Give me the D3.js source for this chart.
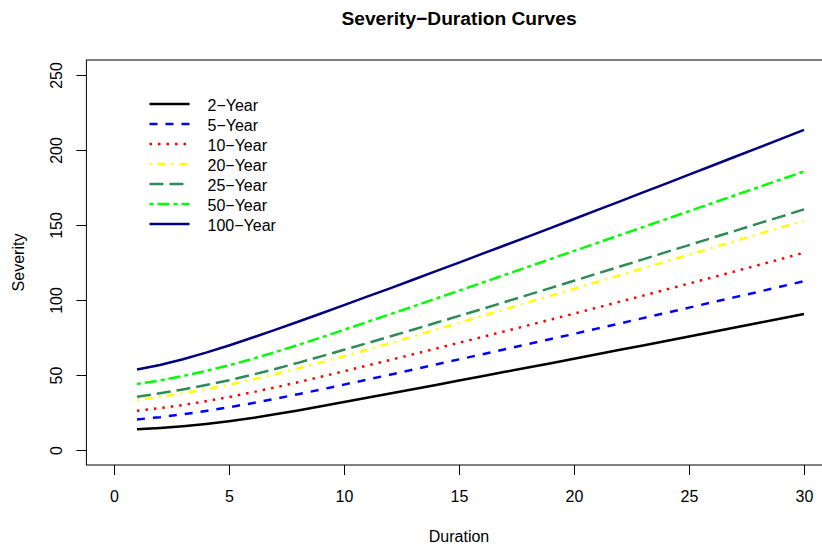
<!DOCTYPE html>
<html>
<head>
<meta charset="utf-8">
<script src="https://cdn.jsdelivr.net/npm/d3@7"></script>
<style>
  html, body { margin: 0; padding: 0; background: #fff; }
  svg { display: block; font-family: "Liberation Sans", Arial, sans-serif; }
</style>
</head>
<body>
<svg id="chart" width="822" height="545"></svg>
<script>
// Duration (x) values shared by every curve
const duration = [1, 2, 3, 4, 5, 6, 7, 8, 9, 10, 11, 12, 13, 14, 15,
                  16, 17, 18, 19, 20, 21, 22, 23, 24, 25, 26, 27, 28, 29, 30];

// Severity for each return period
const sev2 = [13.8, 14.7, 15.9, 17.4, 19.2, 21.3, 23.8, 26.4, 29.2, 32.0,
              34.8, 37.7, 40.5, 43.4, 46.3, 49.2, 52.1, 55.0, 57.9, 60.8,
              63.8, 66.8, 69.7, 72.7, 75.7, 78.7, 81.7, 84.7, 87.7, 90.7];
const sev5 = [20.4, 21.9, 23.8, 26.0, 28.5, 31.2, 34.1, 37.2, 40.3, 43.6,
              46.9, 50.2, 53.6, 57.0, 60.4, 63.8, 67.2, 70.6, 74.0, 77.4,
              80.9, 84.4, 87.9, 91.4, 94.9, 98.4, 101.9, 105.4, 109.0, 112.5];
const sev10 = [26.2, 27.9, 30.0, 32.5, 35.3, 38.4, 41.7, 45.2, 48.8, 52.5,
               56.3, 60.0, 63.8, 67.6, 71.5, 75.3, 79.2, 83.1, 87.0, 90.9,
               94.9, 98.9, 102.9, 106.9, 111.0, 115.0, 119.1, 123.2, 127.3, 131.5];
const sev20 = [33.3, 35.4, 37.8, 40.5, 43.5, 46.9, 50.5, 54.4, 58.4, 62.5,
               66.7, 71.2, 75.7, 80.2, 84.7, 89.3, 93.8, 98.4, 102.9, 107.5,
               112.0, 116.6, 121.1, 125.7, 130.2, 134.8, 139.3, 143.9, 148.4, 153.0];
const sev25 = [35.5, 37.8, 40.4, 43.3, 46.5, 50.1, 54.0, 58.1, 62.4, 66.8,
               71.2, 75.7, 80.2, 84.8, 89.4, 94.0, 98.7, 103.4, 108.1, 112.8,
               117.6, 122.3, 127.1, 131.9, 136.6, 141.4, 146.1, 150.9, 155.6, 160.4];
const sev50 = [44.0, 46.4, 49.3, 52.7, 56.5, 60.7, 65.2, 70.0, 75.0, 80.1,
               85.3, 90.5, 95.7, 101.0, 106.2, 111.5, 116.8, 122.1, 127.4, 132.7,
               138.0, 143.3, 148.6, 153.9, 159.2, 164.5, 169.8, 175.1, 180.4, 185.7];
const sev100 = [53.7, 56.7, 60.5, 64.9, 69.7, 74.8, 80.1, 85.5, 91.0, 96.6,
                102.2, 107.8, 113.5, 119.2, 124.9, 130.7, 136.5, 142.3, 148.1, 154.0,
                159.9, 165.8, 171.7, 177.6, 183.6, 189.5, 195.5, 201.4, 207.4, 213.4];

const seriesNames = ["2\u2212Year", "5\u2212Year", "10\u2212Year", "20\u2212Year",
                     "25\u2212Year", "50\u2212Year", "100\u2212Year"];
const seriesValues = [sev2, sev5, sev10, sev20, sev25, sev50, sev100];

// Tick labels
const xTicks = [0, 5, 10, 15, 20, 25, 30];
const yTicks = [0, 50, 100, 150, 200, 250];

// Line appearance per series (colour and dash pattern)
const seriesColors = ["#000000", "#0000ff", "#ff0000", "#ffff00", "#2e8b57", "#00ff00", "#000080"];
const seriesDashes = [null, "8,8", "2.5,6", "2,6,8,6", "14,6", "4,4,12,4", null];

const svg = d3.select("#chart");

// Plot region
const plotLeft = 86.4, plotRight = 831.6, plotTop = 60, plotBottom = 465;
const x = d3.scaleLinear().domain([-1.2, 31.2]).range([plotLeft, plotRight]);
const y = d3.scaleLinear().domain([-10, 260]).range([plotBottom, plotTop]);

// Curves
const line = d3.line()
  .x((d, i) => x(duration[i]))
  .y(d => y(d));

svg.append("g")
  .selectAll("path")
  .data(seriesValues)
  .join("path")
  .attr("d", d => line(d))
  .attr("fill", "none")
  .attr("stroke", (d, i) => seriesColors[i])
  .attr("stroke-width", 2.5)
  .attr("stroke-dasharray", (d, i) => seriesDashes[i])
  .attr("stroke-linejoin", "round");

// Frame around the plot
svg.append("rect")
  .attr("x", plotLeft).attr("y", plotTop)
  .attr("width", plotRight - plotLeft).attr("height", plotBottom - plotTop)
  .attr("fill", "none").attr("stroke", "#000").attr("stroke-width", 1);

// X axis
const gx = svg.append("g")
  .attr("transform", `translate(0,${plotBottom})`)
  .call(d3.axisBottom(x).tickValues(xTicks).tickSize(10).tickSizeOuter(0).tickFormat(d3.format("d")));
gx.select(".domain").remove();
gx.selectAll(".tick line").attr("stroke", "#000");
gx.selectAll(".tick text")
  .attr("y", 37).attr("dy", null)
  .attr("fill", "#000")
  .style("font-size", "16px")
  .style("font-family", "Liberation Sans, Arial, sans-serif");

// Y axis
const gy = svg.append("g")
  .attr("transform", `translate(${plotLeft},0)`)
  .call(d3.axisLeft(y).tickValues(yTicks).tickSize(10).tickSizeOuter(0).tickFormat(d3.format("d")));
gy.select(".domain").remove();
gy.selectAll(".tick line").attr("stroke", "#000");
gy.selectAll(".tick text")
  .attr("x", null).attr("dy", null)
  .attr("transform", "translate(-24,0) rotate(-90)")
  .attr("text-anchor", "middle")
  .attr("fill", "#000")
  .style("font-size", "16px")
  .style("font-family", "Liberation Sans, Arial, sans-serif");

// Titles
svg.append("text")
  .attr("x", (plotLeft + plotRight) / 2).attr("y", 25)
  .attr("text-anchor", "middle")
  .style("font-size", "19.2px").style("font-weight", "bold")
  .text("Severity\u2212Duration Curves");

svg.append("text")
  .attr("x", (plotLeft + plotRight) / 2).attr("y", 542)
  .attr("text-anchor", "middle")
  .style("font-size", "16px")
  .text("Duration");

svg.append("text")
  .attr("transform", `translate(24,${(plotTop + plotBottom) / 2}) rotate(-90)`)
  .attr("text-anchor", "middle")
  .style("font-size", "16px")
  .text("Severity");

// Legend
const legend = svg.append("g");
const rowY = i => 104 + i * 20;
legend.selectAll("line")
  .data(seriesNames)
  .join("line")
  .attr("x1", 149.5).attr("x2", 189.5)
  .attr("y1", (d, i) => rowY(i)).attr("y2", (d, i) => rowY(i))
  .attr("stroke", (d, i) => seriesColors[i])
  .attr("stroke-width", 2.5)
  .attr("stroke-dasharray", (d, i) => seriesDashes[i]);
legend.selectAll("text")
  .data(seriesNames)
  .join("text")
  .attr("x", 207.5)
  .attr("y", (d, i) => rowY(i) + 6.5)
  .style("font-size", "16px")
  .text(d => d);
</script>
</body>
</html>
